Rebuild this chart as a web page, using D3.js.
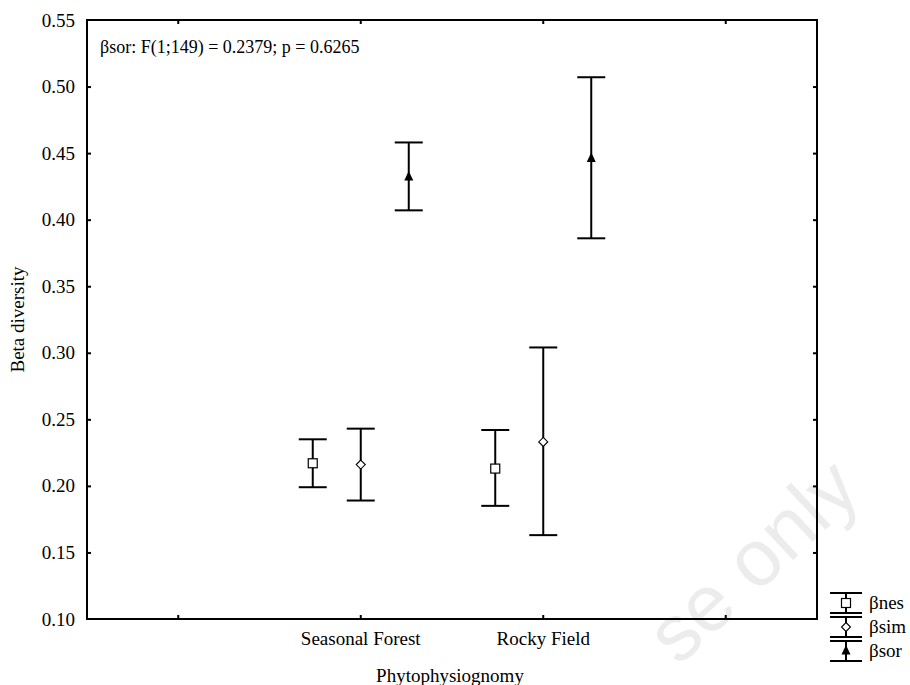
<!DOCTYPE html>
<html><head><meta charset="utf-8">
<script src="https://cdn.jsdelivr.net/npm/d3@7"></script>
<style>body{margin:0;background:#fff}</style>
</head><body>
<svg id="c" width="910" height="685"></svg>
<script>
const categories = ["", "Seasonal Forest", "Rocky Field", " "];
const seriesNames = ["βnes", "βsim", "βsor"];
const nesMean = [0.217, 0.213];
const nesLow  = [0.199, 0.185];
const nesHigh = [0.235, 0.242];
const simMean = [0.216, 0.233];
const simLow  = [0.189, 0.163];
const simHigh = [0.243, 0.304];
const sorMean = [0.432, 0.446];
const sorLow  = [0.407, 0.386];
const sorHigh = [0.458, 0.507];
const groups = ["Seasonal Forest", "Rocky Field"];
const yTicks = [0.10,0.15,0.20,0.25,0.30,0.35,0.40,0.45,0.50,0.55];
const annotation = "βsor: F(1;149) = 0.2379; p = 0.6265";

const svg = d3.select("#c");
const font = "'Liberation Serif', 'Times New Roman', serif";
const L = 87, R = 817, T = 20, B = 619;
const x = d3.scaleBand().domain(categories).range([L, R]).padding(0);
const y = d3.scaleLinear().domain([0.10, 0.55]).range([B, T]);
const offset = d3.scalePoint().domain(seriesNames).range([-48, 48]);

// watermark
svg.append("text").attr("x", 752).attr("y", 560)
  .attr("transform", "rotate(-43 752 560)")
  .attr("text-anchor", "middle").attr("dy", "0.35em")
  .attr("font-family", "'Liberation Sans', Arial, sans-serif")
  .attr("font-size", 80).attr("fill", "#000").attr("opacity", 0.07)
  .text("se only");

const g = svg.append("g");
g.append("rect").attr("x", L).attr("y", T).attr("width", R - L).attr("height", B - T)
  .attr("fill", "none").attr("stroke", "#000").attr("stroke-width", 2);

const yl = g.append("g").attr("transform", `translate(${L},0)`)
  .call(d3.axisLeft(y).tickValues(yTicks).tickFormat(d3.format(".2f")).tickSizeInner(-4).tickSizeOuter(0).tickPadding(12));
const yr = g.append("g").attr("transform", `translate(${R},0)`)
  .call(d3.axisRight(y).tickValues(yTicks).tickFormat("").tickSizeInner(-4).tickSizeOuter(0));
const xb = g.append("g").attr("transform", `translate(0,${B})`)
  .call(d3.axisBottom(x).tickSizeInner(-4).tickSizeOuter(0).tickPadding(13));
const xt = g.append("g").attr("transform", `translate(0,${T})`)
  .call(d3.axisTop(x).tickFormat("").tickSizeInner(-4).tickSizeOuter(0));
[yl, yr, xb, xt].forEach(a => {
  a.attr("font-family", font);
  a.select(".domain").remove();
  a.selectAll("line").attr("stroke", "#000").attr("stroke-width", 2);
  a.selectAll("text").attr("font-family", font).attr("font-size", 19).attr("fill", "#000");
});
yl.selectAll(".tick line").filter(d => d === 0.10 || d === 0.55).remove();
yr.selectAll(".tick line").filter(d => d === 0.10 || d === 0.55).remove();

const series = [
  {name: "βnes", mean: nesMean, low: nesLow, high: nesHigh, shape: "square"},
  {name: "βsim", mean: simMean, low: simLow, high: simHigh, shape: "diamond"},
  {name: "βsor", mean: sorMean, low: sorLow, high: sorHigh, shape: "triangle"}
];
function marker(sel, shape, cx, cy) {
  if (shape === "square") {
    sel.append("rect").attr("x", cx - 4.5).attr("y", cy - 4.5).attr("width", 9).attr("height", 9)
      .attr("fill", "#fff").attr("stroke", "#000").attr("stroke-width", 1.2);
  } else if (shape === "diamond") {
    sel.append("path").attr("d", `M${cx},${cy-4.5}L${cx+4.5},${cy}L${cx},${cy+4.5}L${cx-4.5},${cy}Z`)
      .attr("fill", "#fff").attr("stroke", "#000").attr("stroke-width", 1.1);
  } else {
    sel.append("path").attr("d", `M${cx},${cy-6}L${cx+4.5},${cy+3.5}L${cx-4.5},${cy+3.5}Z`)
      .attr("fill", "#000");
  }
}
const cap = 14;
series.forEach(s => {
  groups.forEach((grp, i) => {
    const cx = x(grp) + x.bandwidth() / 2 + offset(s.name);
    const gg = g.append("g");
    gg.append("line").attr("x1", cx).attr("x2", cx).attr("y1", y(s.low[i])).attr("y2", y(s.high[i]))
      .attr("stroke", "#000").attr("stroke-width", 2);
    [s.low[i], s.high[i]].forEach(v => {
      gg.append("line").attr("x1", cx - cap).attr("x2", cx + cap).attr("y1", y(v)).attr("y2", y(v))
        .attr("stroke", "#000").attr("stroke-width", 2);
    });
    marker(gg, s.shape, cx, y(s.mean[i]));
  });
});

svg.append("text").attr("x", 100).attr("y", 53).attr("font-family", font).attr("font-size", 18)
  .attr("fill", "#000").text(annotation);

svg.append("text").attr("x", 450).attr("y", 682).attr("text-anchor", "middle")
  .attr("font-family", font).attr("font-size", 19).text("Phytophysiognomy");
svg.append("text").attr("transform", `translate(24,${(T + B) / 2}) rotate(-90)`).attr("text-anchor", "middle")
  .attr("font-family", font).attr("font-size", 19).text("Beta diversity");

const lg = svg.append("g");
series.forEach((s, i) => {
  const cy = 603 + i * 24;
  const lx = 846;
  lg.append("line").attr("x1", lx - 16).attr("x2", lx + 16).attr("y1", cy - 10).attr("y2", cy - 10).attr("stroke", "#000").attr("stroke-width", 2);
  lg.append("line").attr("x1", lx - 16).attr("x2", lx + 16).attr("y1", cy + 10).attr("y2", cy + 10).attr("stroke", "#000").attr("stroke-width", 2);
  lg.append("line").attr("x1", lx).attr("x2", lx).attr("y1", cy - 10).attr("y2", cy + 10).attr("stroke", "#000").attr("stroke-width", 2);
  marker(lg, s.shape, lx, cy);
  lg.append("text").attr("x", 869).attr("y", cy + 6).attr("font-family", font).attr("font-size", 19).text(s.name);
});
</script>
</body></html>
